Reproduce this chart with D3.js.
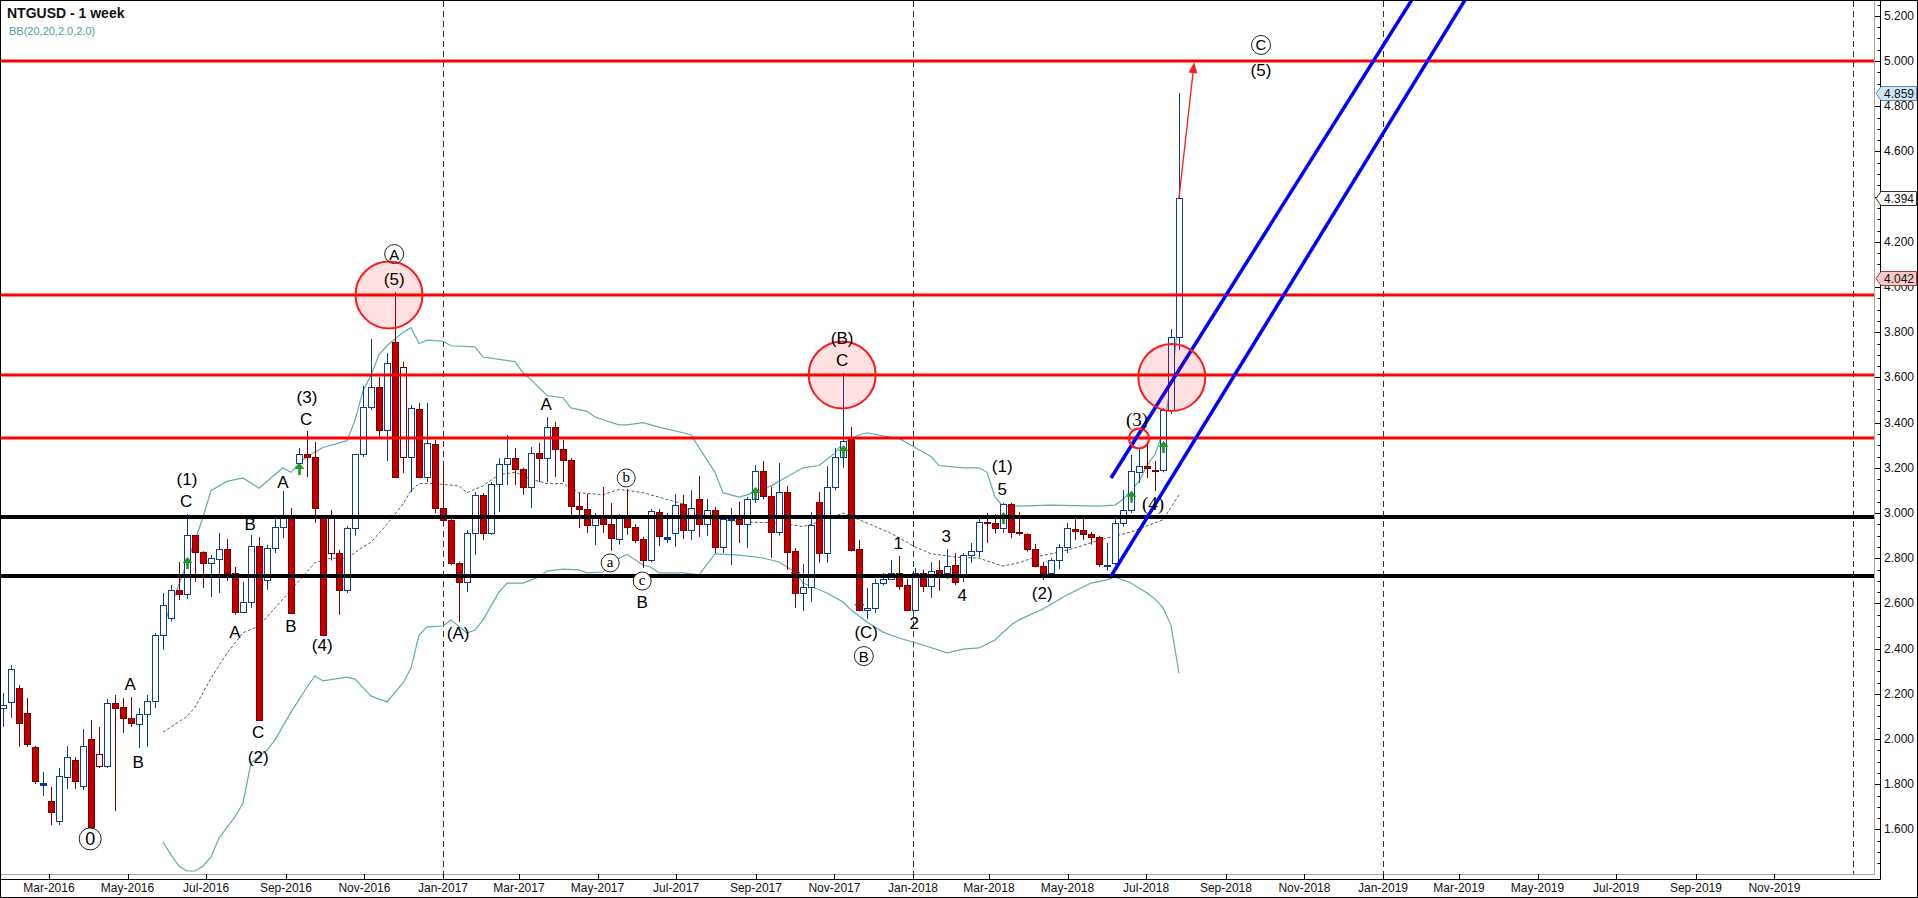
<!DOCTYPE html>
<html lang="en">
<head>
<meta charset="UTF-8">
<title>NTGUSD - 1 week</title>
<script src="https://d3js.org/d3.v7.min.js"></script>
<style>
  html, body { margin: 0; padding: 0; background: #fff; }
  svg { display: block; }
  text { font-family: "Liberation Sans", Arial, sans-serif; }
</style>
</head>
<body>
<svg id="chart" width="1918" height="898"></svg>
<script>
// weekly bars, index 0..147
const opens = [2.137,2.164,2.226,2.115,1.965,1.796,1.726,1.637,1.832,1.907,
  1.792,2.000,1.934,1.881,2.159,2.142,2.093,2.066,2.111,2.168,
  2.460,2.535,2.659,2.642,2.903,2.827,2.779,2.796,2.841,2.735,
  2.562,2.606,2.854,2.704,2.845,2.938,2.978,3.221,3.261,3.248,
  2.978,2.987,2.823,2.659,2.934,3.261,3.469,3.558,3.367,3.757,
  3.646,3.248,3.460,3.159,3.305,3.022,2.969,2.779,2.695,2.912,
  3.080,2.912,3.128,3.217,3.243,3.195,3.115,3.265,3.243,3.381,
  3.283,3.235,3.031,3.018,2.947,2.991,2.951,2.885,2.991,2.938,
  2.885,2.792,3.004,2.885,2.912,3.040,2.925,3.062,2.951,3.013,
  2.850,2.969,2.973,2.951,3.062,3.186,3.075,2.916,3.093,2.832,
  2.646,2.673,3.049,2.823,3.115,3.248,3.327,2.841,2.571,2.580,
  2.690,2.708,2.735,2.681,2.571,2.735,2.677,2.748,2.735,2.770,
  2.730,2.814,2.832,2.960,2.956,2.934,3.040,2.916,2.907,2.841,
  2.765,2.735,2.792,2.850,2.929,2.925,2.907,2.894,2.770,2.779,
  2.956,3.013,3.181,3.208,3.190,3.190,3.456,3.779];
const highs = [2.204,2.327,2.239,2.181,1.969,1.854,1.788,1.872,1.969,1.920,
  2.044,2.084,2.053,2.177,2.195,2.181,2.186,2.137,2.195,2.469,
  2.646,2.681,2.783,2.996,2.903,2.830,2.814,2.912,2.885,2.761,
  2.695,2.903,2.894,2.860,2.982,3.097,3.022,3.288,3.363,3.314,
  2.990,3.013,2.836,2.942,3.261,3.562,3.770,3.602,3.708,3.976,
  3.670,3.478,3.487,3.487,3.323,3.208,2.975,2.785,2.925,3.093,
  3.088,3.137,3.243,3.345,3.288,3.200,3.292,3.310,3.425,3.403,
  3.323,3.243,3.088,3.084,3.000,3.115,3.044,2.995,3.106,2.950,
  2.894,3.018,3.018,3.000,3.084,3.080,3.102,3.164,3.062,3.027,
  2.982,3.022,3.049,3.071,3.212,3.230,3.115,3.221,3.119,2.845,
  2.774,3.004,3.093,3.208,3.288,3.620,3.381,2.881,2.668,2.708,
  2.735,2.792,2.810,2.708,2.757,2.750,2.783,2.790,2.841,2.823,
  2.823,2.867,2.982,3.000,2.996,3.044,3.045,3.004,2.910,2.863,
  2.783,2.800,2.863,2.956,2.973,2.991,2.916,2.900,2.867,2.991,
  3.102,3.257,3.283,3.305,3.230,3.465,3.814,4.859];
const lows = [2.053,2.093,1.965,1.965,1.801,1.748,1.619,1.619,1.779,1.779,
  1.774,1.611,1.872,1.872,1.681,2.027,2.053,1.960,1.965,2.137,
  2.395,2.520,2.615,2.620,2.695,2.668,2.628,2.646,2.700,2.550,
  2.558,2.580,2.084,2.659,2.823,2.889,2.555,3.190,3.159,2.956,
  2.455,2.790,2.549,2.646,2.900,3.248,3.456,3.336,3.230,3.159,
  3.177,3.093,3.159,3.137,3.000,2.956,2.770,2.518,2.650,2.814,
  2.880,2.903,3.004,3.124,3.124,3.080,3.022,3.137,3.137,3.159,
  3.137,2.991,2.934,2.912,2.858,2.912,2.832,2.860,2.903,2.867,
  2.757,2.783,2.854,2.867,2.850,2.885,2.881,2.894,2.898,2.823,
  2.823,2.770,2.867,2.845,3.044,3.060,2.801,2.900,2.748,2.580,
  2.566,2.606,2.779,2.780,3.100,3.200,2.830,2.565,2.531,2.558,
  2.680,2.704,2.660,2.565,2.565,2.650,2.624,2.655,2.708,2.681,
  2.695,2.779,2.805,2.867,2.910,2.912,2.889,2.900,2.830,2.760,
  2.704,2.721,2.752,2.823,2.880,2.880,2.860,2.761,2.745,2.770,
  2.940,3.000,3.133,3.155,3.097,3.180,3.438,3.721];
const closes = [2.150,2.310,2.071,1.978,1.814,1.805,1.677,1.836,1.920,1.814,
  1.969,1.611,1.881,2.159,2.137,2.093,2.071,2.111,2.168,2.460,
  2.593,2.659,2.642,2.903,2.827,2.779,2.801,2.841,2.735,2.562,
  2.606,2.854,2.084,2.845,2.938,2.978,2.558,3.261,3.248,3.022,
  2.460,2.823,2.659,2.934,3.261,3.469,3.558,3.367,3.664,3.159,
  3.248,3.465,3.159,3.310,3.022,2.969,2.779,2.695,2.912,3.080,
  2.912,3.128,3.217,3.243,3.195,3.115,3.265,3.243,3.381,3.283,
  3.235,3.031,3.018,2.947,2.991,2.951,2.889,2.991,2.938,2.881,
  2.792,3.009,2.898,2.894,3.035,2.925,3.022,2.951,3.013,2.850,
  2.973,2.972,2.951,3.062,3.186,3.075,2.916,3.093,2.827,2.646,
  2.673,2.947,2.823,3.115,3.248,3.319,2.836,2.571,2.580,2.690,
  2.708,2.735,2.677,2.571,2.735,2.677,2.743,2.735,2.765,2.695,
  2.814,2.832,2.960,2.956,2.934,3.040,2.916,2.912,2.841,2.765,
  2.735,2.792,2.850,2.934,2.920,2.907,2.894,2.774,2.772,2.956,
  3.013,3.186,3.208,3.199,3.186,3.456,3.779,4.394];

// Bollinger band, read at [bar, price]
const bbUpper = [[20,2.50],[21,2.59],[23,2.78],[25,2.98],[26,3.10],[28,3.14],[30,3.155],[32,3.11],[34,3.17],[35,3.20],
  [36,3.18],[37,3.22],[38,3.25],[40,3.29],[43,3.32],[44,3.41],[45,3.54],[46,3.61],[47,3.70],[48,3.74],[50,3.80],
  [51,3.82],[52,3.75],[53,3.765],[55,3.76],[56,3.74],[59,3.735],[60,3.69],[62,3.68],[64,3.67],[65,3.62],[66,3.59],
  [68,3.52],[70,3.51],[71,3.465],[73,3.45],[74,3.425],[77,3.39],[78,3.39],[80,3.40],[82,3.38],[85,3.355],[86,3.345],
  [87,3.29],[89,3.18],[90,3.09],[92,3.07],[93,3.08],[96,3.12],[98,3.16],[100,3.20],[102,3.21],[104,3.265],[105,3.31],
  [107,3.345],[108,3.355],[111,3.335],[112,3.33],[114,3.29],[116,3.25],[117,3.21],[120,3.20],[122,3.20],[123,3.18],
  [124,3.07],[125,3.03],[126,3.03],[131,3.035],[137,3.03],[139,3.035],[140,3.06],[142,3.14],[143,3.21],[144,3.26],
  [145,3.36],[146,3.57],[147,3.87]];
const bbMiddle = [[20,2.03],[23,2.10],[24,2.14],[26,2.27],[28,2.38],[30,2.47],[32,2.50],[34,2.58],[36,2.66],[38,2.74],
  [39,2.78],[41,2.80],[43,2.80],[45,2.85],[46,2.87],[48,2.95],[50,3.04],[51,3.10],[52,3.13],[54,3.13],[57,3.12],
  [58,3.09],[60,3.12],[62,3.17],[64,3.18],[66,3.15],[68,3.13],[70,3.13],[72,3.09],[75,3.08],[77,3.105],[80,3.09],
  [82,3.07],[85,3.04],[86,3.00],[89,2.97],[93,2.96],[97,2.956],[100,2.94],[103,2.97],[105,3.00],[108,2.956],
  [111,2.91],[114,2.85],[116,2.82],[119,2.805],[122,2.80],[125,2.765],[127,2.78],[129,2.805],[132,2.827],
  [134,2.845],[137,2.88],[141,2.916],[145,2.97],[147,3.08]];
const bbLower = [[20,1.544],[21,1.487],[22,1.438],[23,1.416],[24,1.416],[25,1.438],[26,1.478],[27,1.562],[29,1.655],
  [30,1.717],[31,1.894],[33,1.951],[34,1.996],[36,2.119],[38,2.23],[39,2.279],[40,2.257],[43,2.274],[44,2.265],
  [46,2.19],[48,2.164],[50,2.248],[51,2.314],[52,2.46],[53,2.496],[55,2.50],[56,2.527],[58,2.469],[59,2.482],
  [60,2.527],[62,2.65],[63,2.69],[65,2.69],[67,2.717],[68,2.743],[70,2.752],[72,2.748],[73,2.735],[75,2.739],
  [76,2.77],[77,2.80],[78,2.817],[80,2.77],[81,2.76],[82,2.735],[85,2.735],[87,2.726],[89,2.819],[92,2.814],
  [95,2.801],[97,2.783],[99,2.739],[100,2.69],[103,2.646],[105,2.606],[106,2.571],[108,2.518],[110,2.473],
  [112,2.447],[115,2.416],[118,2.381],[120,2.398],[122,2.403],[124,2.438],[126,2.504],[127,2.527],[130,2.575],
  [133,2.637],[136,2.69],[138,2.704],[139,2.717],[141,2.69],[143,2.646],[144,2.62],[145,2.58],[146,2.504],[147,2.29]];

const redLevels = [5.0, 3.965, 3.611, 3.332];
const blackLevels = [2.982, 2.721];
// channel: [bar0, price0, bar1, price1]
const channel = [[138.5, 2.72, 182.75, 5.27], [138.5, 3.155, 176.1, 5.27]];
const zones = [[48.25, 3.965], [104.9, 3.611], [146.1, 3.60]];
const smallZones = [[142, 3.33]];
const target = [147, 4.394, 148.9, 4.995];
const upSignals = [[23, 2.805], [37, 3.221], [94, 3.115], [105, 3.301], [125, 3.004], [141, 3.099], [145, 3.319]];
const downSignals = [[99, 2.712], [107, 2.571]];

const waveLabels = [["A",15.9,2.239],["B",16.9,1.898],["(1)",23,3.150],["C",22.9,3.049],
  ["A",29,2.473],["B",30.9,2.951],["C",31.9,2.027],["(2)",31.9,1.916],["A",35,3.137],["B",36,2.496],
  ["(3)",38,3.513],["C",37.9,3.412],["(4)",39.9,2.412],["(5)",48.9,4.031],["(A)",56.9,2.469],
  ["A",67.9,3.478],["B",79.9,2.602],["(B)",104.9,3.774],["C",104.9,3.673],["(C)",107.9,2.473],
  ["1",111.9,2.867],["2",113.9,2.513],["3",117.9,2.894],["4",119.9,2.637],["(1)",124.9,3.204],
  ["5",124.9,3.102],["(2)",129.9,2.646],["(5)",157.25,4.956]];
const serifLabels = [["(3)",141.75,3.412],["(4)",143.75,3.044]];
const circledLabels = [["0",10.9,1.558],["A",48.9,4.146],["B",107.6,2.367],["C",157.25,5.071]];
const smallCircled = [["a",75.9,2.779],["b",77.9,3.155],["c",79.9,2.699]];

const priceTicks = [1.6,1.8,2.0,2.2,2.4,2.6,2.8,3.0,3.2,3.4,3.6,3.8,4.0,4.2,4.4,4.6,4.8,5.0,5.2];
const monthTicks = ["2016-03-01","2016-05-01","2016-07-01","2016-09-01","2016-11-01","2017-01-01","2017-03-01",
  "2017-05-01","2017-07-01","2017-09-01","2017-11-01","2018-01-01","2018-03-01","2018-05-01","2018-07-01",
  "2018-09-01","2018-11-01","2019-01-01","2019-03-01","2019-05-01","2019-07-01","2019-09-01","2019-11-01"];
const yearLines = ["2017-01-01","2018-01-01","2019-01-01","2020-01-01"];
const tagValues = [4.859, 4.394, 4.042];

const W = 1918, H = 898;
const plot = {left: 1, top: 1, right: 1874, bottom: 874};
const BLUE = "#0b3d91", RED = "#c00000", RED_DARK = "#7d0000", TEAL = "#64aaab";

const svg = d3.select("#chart");
svg.append("rect").attr("width", W).attr("height", H).attr("fill", "#fff");

const x = d3.scaleLinear().domain([0, 147]).range([3, 1179]);
const y = d3.scaleLinear().domain([1.6, 5.2]).range([829.4, 15.8]);
const xTime = d3.scaleUtc().domain([new Date("2017-01-01"), new Date("2018-01-01")]).range([443, 913]);

svg.append("defs").append("clipPath").attr("id", "plotClip")
  .append("rect").attr("x", plot.left).attr("y", plot.top)
  .attr("width", plot.right - plot.left).attr("height", plot.bottom - plot.top);

const g = svg.append("g").attr("clip-path", "url(#plotClip)");

// year separators
g.selectAll(".year").data(yearLines).enter().append("line")
  .attr("x1", d => Math.round(xTime(new Date(d))) + 0.5).attr("x2", d => Math.round(xTime(new Date(d))) + 0.5)
  .attr("y1", plot.top).attr("y2", plot.bottom)
  .attr("stroke", "#333").attr("stroke-width", 1).attr("stroke-dasharray", "6,4");

// bollinger bands
const bbLine = d3.line().x(d => x(d[0])).y(d => y(d[1]));
g.append("path").attr("d", bbLine(bbUpper)).attr("fill", "none").attr("stroke", TEAL).attr("stroke-width", 1.2);
g.append("path").attr("d", bbLine(bbLower)).attr("fill", "none").attr("stroke", TEAL).attr("stroke-width", 1.2);
g.append("path").attr("d", bbLine(bbMiddle)).attr("fill", "none").attr("stroke", "#56625f")
  .attr("stroke-width", 1).attr("stroke-dasharray", "3,2");

// candles
const bars = opens.map((o, i) => ({
  i, o, h: highs[i], l: lows[i], c: closes[i], pc: i ? closes[i - 1] : o
}));
bars.forEach(d => { d.up = d.c >= d.o; d.hollow = d.c >= d.pc; });

const candle = g.selectAll(".candle").data(bars).enter().append("g");
candle.append("line")
  .attr("x1", d => Math.round(x(d.i)) + 0.5).attr("x2", d => Math.round(x(d.i)) + 0.5)
  .attr("y1", d => y(d.h)).attr("y2", d => y(d.l))
  .attr("stroke", d => d.up ? BLUE : RED_DARK).attr("stroke-width", 1);
candle.append("rect")
  .attr("x", d => Math.round(x(d.i)) - 2.5).attr("width", 6)
  .attr("y", d => Math.round(y(Math.max(d.o, d.c))) + 0.5)
  .attr("height", d => Math.max(1, Math.round(Math.abs(y(d.o) - y(d.c)))))
  .attr("fill", d => d.hollow ? "#fff" : (d.up ? BLUE : RED))
  .attr("stroke", d => d.up ? BLUE : RED_DARK).attr("stroke-width", 1);

// signals
g.selectAll(".sigUp").data(upSignals).enter().append("path")
  .attr("transform", d => `translate(${Math.round(x(d[0])) + 0.5},${y(d[1])})`)
  .attr("d", "M0,0 L-5,6 L-1.3,6 L-1.3,12 L1.3,12 L1.3,6 L5,6 Z")
  .attr("fill", "#1c9a1c");
g.selectAll(".sigDown").data(downSignals).enter().append("path")
  .attr("transform", d => `translate(${Math.round(x(d[0])) + 0.5},${y(d[1])})`)
  .attr("d", "M0,0 L-5,-6 L-1.3,-6 L-1.3,-12 L1.3,-12 L1.3,-6 L5,-6 Z")
  .attr("fill", "#8a1010");

// horizontal levels
g.selectAll(".red").data(redLevels).enter().append("line")
  .attr("x1", plot.left).attr("x2", plot.right)
  .attr("y1", d => y(d)).attr("y2", d => y(d))
  .attr("stroke", "#ff0000").attr("stroke-width", 3);
g.selectAll(".black").data(blackLevels).enter().append("line")
  .attr("x1", plot.left).attr("x2", plot.right)
  .attr("y1", d => y(d)).attr("y2", d => y(d))
  .attr("stroke", "#000").attr("stroke-width", 4);

// channel
g.selectAll(".chan").data(channel).enter().append("line")
  .attr("x1", d => x(d[0])).attr("y1", d => y(d[1]))
  .attr("x2", d => x(d[2])).attr("y2", d => y(d[3]))
  .attr("stroke", "#0000ff").attr("stroke-width", 3.5);

// zones
g.selectAll(".zone").data(zones).enter().append("circle")
  .attr("cx", d => x(d[0])).attr("cy", d => y(d[1])).attr("r", 33.5)
  .attr("fill", "rgba(255,0,0,0.12)").attr("stroke", "#ff1a1a").attr("stroke-width", 2);
g.selectAll(".szone").data(smallZones).enter().append("circle")
  .attr("cx", d => x(d[0])).attr("cy", d => y(d[1])).attr("r", 10)
  .attr("fill", "rgba(255,0,0,0.06)").attr("stroke", "#ff1a1a").attr("stroke-width", 2);

// target arrow
{
  const x0 = x(target[0]), y0 = y(target[1]), x1 = x(target[2]), y1 = y(target[3]);
  const ang = Math.atan2(y1 - y0, x1 - x0);
  const hx = x1 - 11 * Math.cos(ang), hy = y1 - 11 * Math.sin(ang);
  g.append("line").attr("x1", x0).attr("y1", y0).attr("x2", hx).attr("y2", hy)
    .attr("stroke", "#ff1a1a").attr("stroke-width", 1.3);
  const px = -Math.sin(ang) * 4.5, py = Math.cos(ang) * 4.5;
  g.append("path").attr("d", `M${x1},${y1} L${hx + px},${hy + py} L${hx - px},${hy - py} Z`)
    .attr("fill", "#ff1a1a");
}

// wave labels
g.selectAll(".wl").data(waveLabels).enter().append("text")
  .attr("x", d => x(d[1])).attr("y", d => y(d[2]))
  .attr("text-anchor", "middle").attr("dominant-baseline", "central")
  .attr("font-size", 17).attr("fill", "#000").text(d => d[0]);
g.selectAll(".sl").data(serifLabels).enter().append("text")
  .attr("x", d => x(d[1])).attr("y", d => y(d[2]))
  .attr("text-anchor", "middle").attr("dominant-baseline", "central")
  .style("font-family", "'Liberation Serif', 'Times New Roman', serif")
  .attr("font-size", 19).attr("fill", "#000").text(d => d[0]);

const circ = g.selectAll(".cl").data(circledLabels).enter().append("g")
  .attr("transform", d => `translate(${x(d[1])},${y(d[2])})`);
circ.append("circle").attr("r", d => d[0] === "0" ? 11 : 9.5)
  .attr("fill", "none").attr("stroke", "#222").attr("stroke-width", 1);
circ.append("text").attr("text-anchor", "middle").attr("dominant-baseline", "central")
  .attr("font-size", d => d[0] === "0" ? 18 : 15).attr("fill", "#000").text(d => d[0]);

const sc = g.selectAll(".scl").data(smallCircled).enter().append("g")
  .attr("transform", d => `translate(${x(d[1])},${y(d[2])})`);
sc.append("circle").attr("r", 9).attr("fill", "#fff").attr("stroke", "#222").attr("stroke-width", 1);
sc.append("text").attr("text-anchor", "middle").attr("dominant-baseline", "central").attr("dy", -1)
  .style("font-family", "'Liberation Serif', 'Times New Roman', serif")
  .attr("font-size", 15).attr("fill", "#000").text(d => d[0]);

// title
svg.append("text").attr("x", 7).attr("y", 18).attr("font-size", 14).attr("font-weight", "bold")
  .attr("fill", "#111").text("NTGUSD - 1 week");
svg.append("text").attr("x", 9).attr("y", 35).attr("font-size", 11)
  .attr("fill", "#4e9c9c").text("BB(20,20,2.0,2.0)");

// frames
svg.append("line").attr("x1", 0).attr("x2", plot.right + 0.5).attr("y1", plot.bottom + 0.5).attr("y2", plot.bottom + 0.5)
  .attr("stroke", "#a8a898");
svg.append("line").attr("x1", plot.right + 0.5).attr("x2", plot.right + 0.5).attr("y1", 0).attr("y2", plot.bottom + 0.5)
  .attr("stroke", "#a8a898");
svg.append("line").attr("x1", 0).attr("x2", 1880.5).attr("y1", 879.5).attr("y2", 879.5).attr("stroke", "#000");
svg.append("line").attr("x1", 1880.5).attr("x2", 1880.5).attr("y1", 0).attr("y2", 879.5).attr("stroke", "#000");

// right price axis
const minor = d3.range(1.45, 5.26, 0.05);
svg.selectAll(".minor").data(minor).enter().append("line")
  .attr("x1", 1877.5).attr("x2", 1880.5)
  .attr("y1", d => Math.round(y(d)) + 0.5).attr("y2", d => Math.round(y(d)) + 0.5)
  .attr("stroke", "#000");
svg.selectAll(".major").data(priceTicks).enter().append("line")
  .attr("x1", 1875).attr("x2", 1880.5)
  .attr("y1", d => Math.round(y(d)) + 0.5).attr("y2", d => Math.round(y(d)) + 0.5)
  .attr("stroke", "#000");
svg.selectAll(".plab").data(priceTicks).enter().append("text")
  .attr("x", 1884).attr("y", d => y(d)).attr("dominant-baseline", "central")
  .attr("font-size", 12).attr("fill", "#111").text(d => d3.format(".3f")(d));

// value tags (drawn over the scale labels, as in the source chart)
const tagFill = ["#cfe6f7", "#ffffff", "#f7c9c9"];
const tagStroke = ["#5a86b5", "#333333", "#a04040"];
const tag = svg.selectAll(".tag").data(tagValues).enter().append("g")
  .attr("transform", d => `translate(0,${Math.round(y(d)) + 0.5})`);
tag.append("path").attr("d", "M1876,0 L1881,-7 L1916.5,-7 L1916.5,7 L1881,7 Z")
  .attr("fill", (d, i) => tagFill[i]).attr("stroke", (d, i) => tagStroke[i]);
tag.append("text").attr("x", 1884).attr("y", 0).attr("dominant-baseline", "central")
  .attr("font-size", 12).attr("fill", "#111").text(d => d3.format(".3f")(d));

// bottom time axis
svg.selectAll(".mtick").data(monthTicks).enter().append("line")
  .attr("x1", d => Math.round(xTime(new Date(d))) + 0.5).attr("x2", d => Math.round(xTime(new Date(d))) + 0.5)
  .attr("y1", plot.bottom).attr("y2", 879.5).attr("stroke", "#000");
svg.selectAll(".mlab").data(monthTicks).enter().append("text")
  .attr("x", d => xTime(new Date(d))).attr("y", 892)
  .attr("text-anchor", "middle").attr("font-size", 12).attr("fill", "#111")
  .text(d => d3.utcFormat("%b-%Y")(new Date(d)));

// outer border
svg.append("rect").attr("x", 0.5).attr("y", 0.5).attr("width", W - 1).attr("height", H - 1)
  .attr("fill", "none").attr("stroke", "#000");
</script>
</body>
</html>
